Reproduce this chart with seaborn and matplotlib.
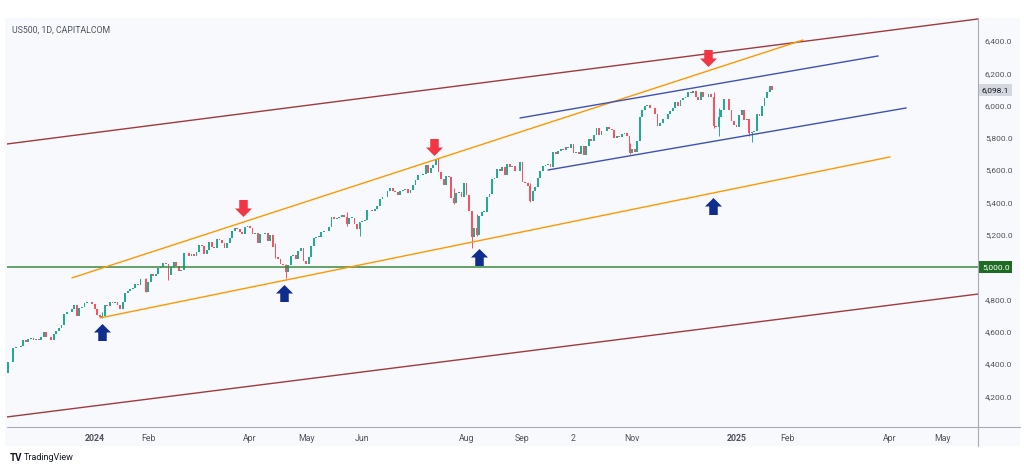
import numpy as np
import pandas as pd
import seaborn as sns
import matplotlib.pyplot as plt
from matplotlib.path import Path
from matplotlib.patches import Rectangle
from matplotlib.lines import Line2D
import matplotlib.transforms as mtransforms

# US500 daily closes, one list per month
first_open = 4347
nov23 = [4415, 4412, 4496, 4503, 4508, 4514, 4547, 4538, 4557, 4559, 4550, 4555, 4551, 4568]
dec23 = [4595, 4570, 4567, 4549, 4586, 4604, 4622, 4644, 4707, 4720, 4719, 4741, 4768, 4698,
         4747, 4755, 4775, 4782, 4783, 4770]
jan24 = [4743, 4705, 4689, 4697, 4764, 4757, 4783, 4780, 4784, 4766, 4739, 4781, 4840, 4850,
         4865, 4869, 4894, 4891, 4928, 4925, 4846]
feb24 = [4906, 4959, 4943, 4954, 4995, 4998, 5027, 5022, 4953, 5001, 5030, 5006, 4976, 4982,
         5087, 5089, 5070, 5078, 5070, 5096]
mar24 = [5137, 5131, 5079, 5105, 5157, 5124, 5118, 5175, 5165, 5150, 5117, 5149, 5179, 5225,
         5242, 5234, 5218, 5204, 5248, 5254]
apr24 = [5244, 5206, 5211, 5147, 5204, 5202, 5210, 5161, 5199, 5123, 5062, 5051, 5022, 5011,
         4967, 5011, 5071, 5072, 5048, 5100, 5116, 5036]
may24 = [5018, 5064, 5128, 5181, 5188, 5188, 5214, 5223, 5221, 5247, 5308, 5297, 5303, 5308,
         5321, 5307, 5268, 5305, 5306, 5267, 5235, 5278]
jun24 = [5283, 5291, 5354, 5353, 5347, 5361, 5375, 5421, 5434, 5432, 5473, 5487, 5473, 5465,
         5448, 5469, 5478, 5483, 5460]
jul24 = [5475, 5509, 5537, 5567, 5573, 5577, 5634, 5585, 5615, 5631, 5667, 5588, 5545, 5505,
         5564, 5556, 5427, 5399, 5459, 5464, 5436, 5522]
aug24 = [5447, 5347, 5186, 5240, 5200, 5319, 5344, 5344, 5434, 5455, 5543, 5554, 5608, 5597,
         5621, 5571, 5635, 5617, 5626, 5592, 5592, 5648]
sep24 = [5529, 5520, 5503, 5408, 5471, 5496, 5554, 5596, 5626, 5633, 5635, 5618, 5714, 5703,
         5719, 5733, 5722, 5745, 5738, 5762]
oct24 = [5709, 5710, 5700, 5751, 5696, 5751, 5792, 5780, 5815, 5860, 5815, 5842, 5841, 5865,
         5854, 5851, 5797, 5810, 5808, 5824, 5833, 5814, 5705]
nov24 = [5729, 5713, 5783, 5929, 5973, 5996, 6001, 5984, 5985, 5949, 5871, 5894, 5917, 5917,
         5949, 5969, 5987, 6022, 5999, 6032]
dec24 = [6047, 6050, 6086, 6075, 6090, 6053, 6035, 6084, 6051, 6051, 6074, 6051, 5872, 5867,
         5931, 5974, 6040, 6038, 5971, 5907, 5882]
jan25 = [5869, 5942, 5975, 5909, 5918, 5827, 5836, 5843, 5950, 5937, 5997, 6049, 6086, 6119,
         6098.1]

# bars that show a visible wick (bar number, low, high)
wick_day = [37, 54, 63, 105, 109, 133, 138, 175, 182, 184, 205, 244, 277, 279, 291, 292]
wick_low = [4682, 4845, 4920, 5057, 4930, 5257, 5191, 5390, 5119, 5192, 5402, 5703, 5864,
            5810, 5809, 5773]
wick_high = [4721, 4931, 5004, 5150, 5019, 5342, 5280, 5491, 5250, 5330, 5522, 5770, 6085,
             5982, 5899, 5838]

# trading days in the months after the data ends (Jan..Apr 2025 full months)
future_month_days = [20, 19, 21, 21]
tick_labels = ["2024", "Feb", "Apr", "May", "Jun", "Aug", "Sep", "2", "Nov",
               "2025", "Feb", "Apr", "May"]
tick_month = [2, 3, 5, 6, 7, 9, 10, 11, 12, 14, 15, 17, 18]

# drawn trendlines: (bar, price) -> (bar, price)
line_x0 = [-0.4, -0.4, 25.1, 36.1, 201.0, 212.0]
line_p0 = [5762, 4072, 4933, 4685, 5923, 5601]
line_x1 = [380.8, 380.8, 312.1, 346.3, 341.6, 352.6]
line_p1 = [6536, 4833, 6406, 5682, 6307, 5985]
line_colors = ["#9e3b3f", "#9e3b3f", "#ff9800", "#ff9800", "#3f51b5", "#3f51b5"]

support_level = 5000

red_arrow_x = [92.3, 167.3, 274.8]
red_arrow_p = [5366, 5744, 6295]
blue_arrow_x = [37.0, 108.4, 184.9, 276.8]
blue_arrow_p = [4598, 4840, 5063, 5378]

months = [nov23, dec23, jan24, feb24, mar24, apr24, may24, jun24, jul24, aug24,
          sep24, oct24, nov24, dec24, jan25]
closes = np.concatenate([np.array(m, dtype=float) for m in months])
opens = np.r_[first_open, closes[:-1]]
bars = np.arange(len(closes))

month_len = [len(m) for m in months[:-1]] + future_month_days
month_start = np.r_[0, np.cumsum(month_len)]
tick_pos = [month_start[m] for m in tick_month]

sns.set_theme(style="white")
plt.rcParams["font.family"] = ["Roboto", "DejaVu Sans"]

W, H = 1024, 471
fig = plt.figure(figsize=(W / 100, H / 100), dpi=100)
fig.patch.set_facecolor("white")
bg = "#f8f9fd"
fig.patches.append(Rectangle((5 / W, (H - 446) / H), 1015 / W, 428 / H,
                             transform=fig.transFigure, fc=bg, ec="none", zorder=-5))
ax = fig.add_axes([7 / W, 45 / H, 971 / W, 408 / H])
ax.set_zorder(1)
ax.set_facecolor(bg)

up = closes >= opens
col = np.where(up, "#22ab94", "#f7525f")
body = np.maximum(np.abs(closes - opens), 2.5)
ax.bar(bars, body, bottom=np.minimum(opens, closes), width=0.72, color=col,
       linewidth=0, zorder=2)
wcol = [col[d] for d in wick_day]
ax.vlines(wick_day, wick_low, wick_high, colors=wcol, lw=0.7, zorder=2)

ax.axhline(support_level, color="#3b8a3e", lw=1.1, zorder=3)
for x0, p0, x1, p1, c in zip(line_x0, line_p0, line_x1, line_p1, line_colors):
    sns.lineplot(x=[x0, x1], y=[p0, p1], color=c, lw=1.0, ax=ax, zorder=3)

verts = [(0, 1), (1.0, 0.0), (0.5, 0.0), (0.5, -1), (-0.5, -1),
         (-0.5, 0.0), (-1.0, 0.0), (0, 1)]
codes = [Path.MOVETO] + [Path.LINETO] * 6 + [Path.CLOSEPOLY]
up_arrow = Path(verts, codes)
down_arrow = Path([(x, -y) for x, y in verts], codes)
ax.scatter(red_arrow_x, red_arrow_p, marker=down_arrow, s=150, color="#f23645",
           linewidths=0, zorder=4)
ax.scatter(blue_arrow_x, blue_arrow_p, marker=up_arrow, s=150, color="#0f2d8f",
           linewidths=0, zorder=4)

ax.set_xlim(-0.4, 380.8)
ax.set_ylim(4016, 6542)

# the 5,000 level gets its own coloured label box instead of a plain tick label
yt = list(range(4200, 6401, 200))
ax.yaxis.tick_right()
ax.set_yticks(yt)
ax.set_yticklabels(["" if v == support_level else f"{v:,.1f}" for v in yt])
ax.set_xticks(tick_pos)
ax.set_xticklabels(tick_labels)
ax.tick_params(axis="both", length=0, labelsize=6, labelcolor="#50535e")
ax.tick_params(axis="y", pad=5)
ax.tick_params(axis="x", pad=5.5, labelsize=6.3)
for t in ax.get_xticklabels():
    if t.get_text().isdigit() and len(t.get_text()) == 4:
        t.set_fontweight("bold")
for s in ax.spines.values():
    s.set_visible(False)
ax.set_xlabel("")
ax.set_ylabel("")

# price labels on the right scale
tr = mtransforms.blended_transform_factory(ax.transAxes, ax.transData)
ax.text(1.004, closes[-1], f"{closes[-1]:,.1f}", transform=tr, ha="left", va="center",
        fontsize=6, color="#131722", zorder=6, clip_on=False,
        bbox=dict(boxstyle="square,pad=0.35", fc="#d5d7de", ec="none"))
ax.text(1.004, support_level, f"{support_level:,.1f}", transform=tr, ha="left",
        va="center", fontsize=6, color="white", zorder=6, clip_on=False,
        bbox=dict(boxstyle="square,pad=0.35", fc="#1e6b24", ec="none"))

# scale separators
sep = "#a9acb5"
fig.lines.append(Line2D([7 / W, 1020 / W], [(H - 427) / H] * 2, transform=fig.transFigure,
                        color=sep, lw=0.8, zorder=5))
fig.lines.append(Line2D([978 / W] * 2, [(H - 18) / H, (H - 446) / H],
                        transform=fig.transFigure, color=sep, lw=0.8, zorder=5))

fig.text(12 / W, (H - 30) / H, "US500, 1D, CAPITALCOM", fontsize=6.3, color="#50535e",
         va="center", zorder=5)
fig.text(10 / W, (H - 458) / H, "TV", fontsize=7, fontweight="bold", color="#131722",
         va="center")
fig.text(24 / W, (H - 458) / H, "TradingView", fontsize=6.5, color="#131722", va="center")

fig.savefig("out.png", dpi=100)
